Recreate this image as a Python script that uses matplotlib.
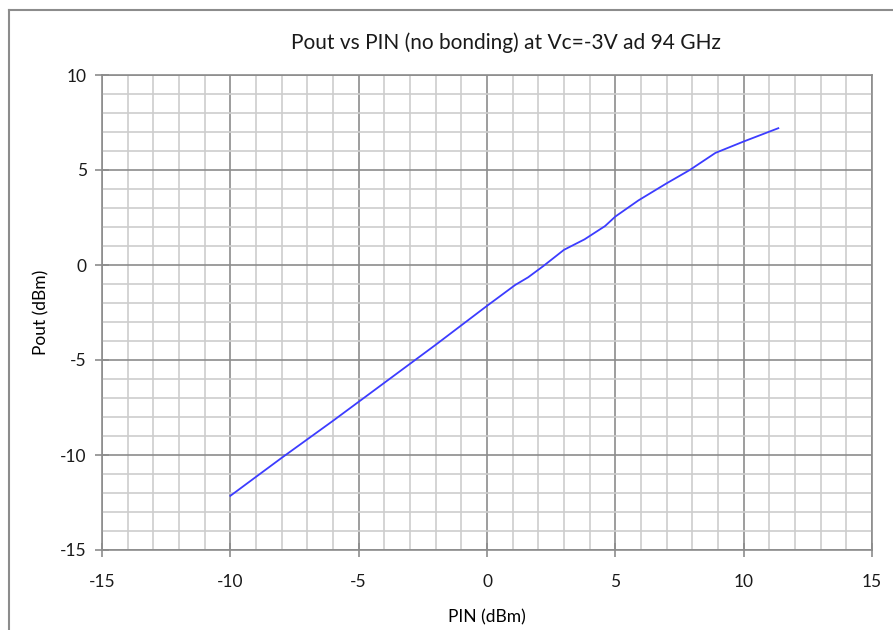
import matplotlib
matplotlib.use("Agg")
import matplotlib.pyplot as plt
from matplotlib.lines import Line2D
from matplotlib.ticker import MultipleLocator

pin = [-10, -8, -6, -4, -2, 0, 1.1, 1.6, 2.2, 3.0, 3.8, 4.6, 5.0, 5.9, 7.0, 7.9, 8.9, 10.0, 11.35]
pout = [-12.15, -10.15, -8.2, -6.2, -4.2, -2.15, -1.05, -0.65, -0.05, 0.8, 1.35, 2.05, 2.55, 3.4, 4.3, 5.0, 5.9, 6.5, 7.2]

plt.rcParams['font.family'] = ['Lato', 'DejaVu Sans']
plt.rcParams['axes.unicode_minus'] = False

W, H = 893, 630
fig = plt.figure(figsize=(W / 100, H / 100), dpi=100)
ax = fig.add_axes([102 / W, 1 - 550 / H, 770 / W, 475 / H])

ax.plot(pin, pout, color='#3c3cff', lw=1.3)

ax.set_xlim(-15, 15)
ax.set_ylim(-15, 10)
ax.xaxis.set_major_locator(MultipleLocator(5))
ax.yaxis.set_major_locator(MultipleLocator(5))
ax.xaxis.set_minor_locator(MultipleLocator(1))
ax.yaxis.set_minor_locator(MultipleLocator(1))
ax.grid(which='major', color='#8c8c8c', lw=1.2)
ax.grid(which='minor', color='#cdcdcd', lw=1.2)
ax.set_axisbelow(True)
ax.tick_params(which='major', direction='inout', length=10, width=1.2, color='#8c8c8c',
               labelsize=12.5, labelcolor='#1a1a1a', pad=6)
ax.tick_params(which='minor', length=0)
ax.tick_params(axis='x', pad=12)
for s in ax.spines.values():
    s.set_color('#8c8c8c')
    s.set_linewidth(1.2)

ax.set_xlabel("PIN (dBm)", fontsize=12.5, labelpad=14)
ax.set_ylabel("Pout (dBm)", fontsize=12.5, labelpad=8)
fig.text(506 / W, 1 - 43 / H, "Pout vs PIN (no bonding) at Vc=-3V ad 94 GHz",
         ha='center', va='center', fontsize=15, color='#1a1a1a')

# chart area frame (left and top edges visible)
fig.add_artist(Line2D([9 / W, 9 / W], [0, 1 - 10 / H], color='#8c8c8c', lw=1.5))
fig.add_artist(Line2D([9 / W, 1], [1 - 10 / H, 1 - 10 / H], color='#8c8c8c', lw=1.5))

fig.savefig("out.png", dpi=100)
